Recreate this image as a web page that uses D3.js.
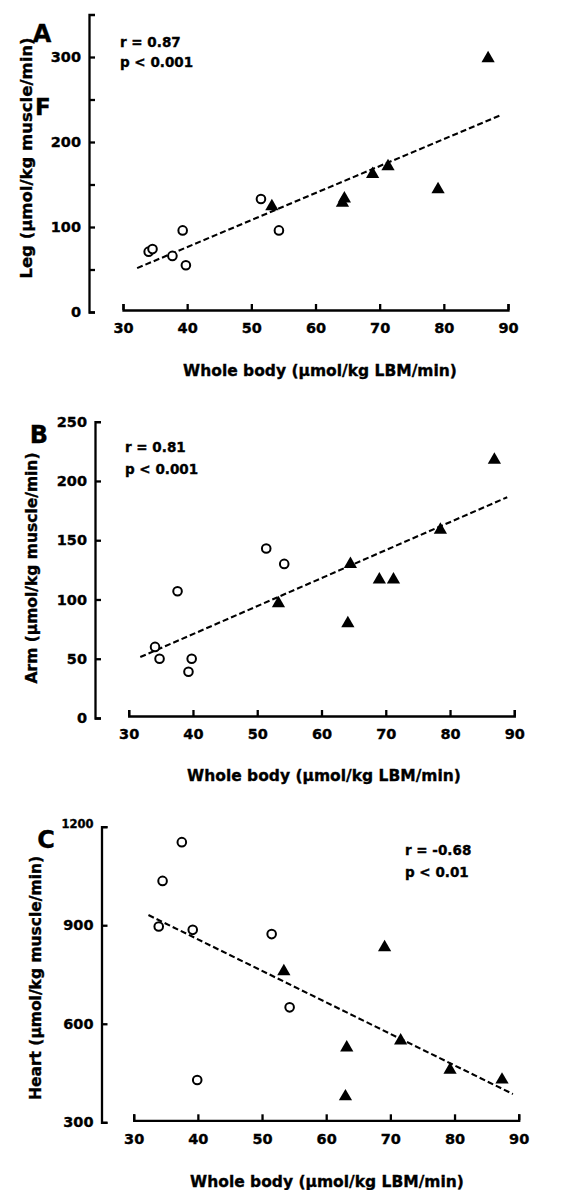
<!DOCTYPE html>
<html>
<head>
<meta charset="utf-8">
<script src="https://cdn.jsdelivr.net/npm/d3@7"></script>
<style>
  body { margin: 0; background: #fff; }
  svg { display: block; font-family: "DejaVu Sans", "Liberation Sans", Arial, sans-serif; font-weight: bold; }
  text { stroke: #000; stroke-width: 0.35px; }
</style>
</head>
<body>
<svg id="chart" width="564" height="1190"></svg>
<script>
// whole body x ticks, shared by all panels
const xTicks = [30, 40, 50, 60, 70, 80, 90];

// A: leg
const legCircleX = [34.0, 34.6, 37.7, 39.3, 39.8, 51.5, 54.3];
const legCircleY = [71, 74, 66, 96, 55, 133, 96];
const legTriX = [53.2, 64.2, 64.5, 68.9, 71.3, 79.1, 86.9];
const legTriY = [126, 130, 135, 164, 173, 146, 300];
const legFitX = [32.2, 88.8];
const legFitY = [51.6, 231.4];
const legYTicks = [0, 50, 100, 150, 200, 250, 300];
const legYLabels = [0, 100, 200, 300];

// B: arm
const armCircleX = [51.4, 54.2, 37.6, 34.1, 34.8, 39.8, 39.3];
const armCircleY = [143, 130, 107, 60, 50, 50, 39];
const armTriX = [64.5, 69.0, 71.2, 78.5, 86.9, 53.3, 64.1];
const armTriY = [131, 118, 118, 160, 219, 98, 81];
const armFitX = [31.8, 88.9];
const armFitY = [51.4, 186.3];
const armYTicks = [0, 50, 100, 150, 200, 250];
const armYLabels = [0, 50, 100, 150, 200, 250];

// C: heart
const heartCircleX = [37.5, 34.5, 33.9, 39.2, 51.5, 54.3, 39.9];
const heartCircleY = [1153, 1035, 896, 886, 873, 650, 429];
const heartTriX = [53.4, 69.1, 63.2, 71.6, 63.0, 79.3, 87.4];
const heartTriY = [764, 837, 532, 553, 383, 464, 434];
const heartFitX = [32.3, 89.1];
const heartFitY = [931, 386];
const heartYTicks = [300, 600, 900, 1200];
const heartYLabels = [300, 600, 900, 1200];

const svg = d3.select("#chart");

const panels = [
  {
    letter: "A", letterX: 42, letterY: 42,
    yTitle: "Leg (µmol/kg muscle/min)", yTitleX: 32, yTitleY: 158, yTitleSize: 16.5,
    axisX: 89, x0: 123, x1: 508, yBottom: 312, yTop: 14.5, yDomain: [0, 350],
    yTicks: legYTicks, yLabels: legYLabels,
    cx: legCircleX, cy: legCircleY, tx: legTriX, ty: legTriY, fx: legFitX, fy: legFitY,
    stats: ["r = 0.87", "p < 0.001"], statX: 120, statY: [47, 67],
    xTitleX: 320, xTitleY: 376
  },
  {
    letter: "B", letterX: 39, letterY: 443,
    yTitle: "Arm (µmol/kg muscle/min)", yTitleX: 37, yTitleY: 568, yTitleSize: 15.5,
    axisX: 95, x0: 128.7, x1: 514.3, yBottom: 718, yTop: 421.7, yDomain: [0, 250],
    yTicks: armYTicks, yLabels: armYLabels,
    cx: armCircleX, cy: armCircleY, tx: armTriX, ty: armTriY, fx: armFitX, fy: armFitY,
    stats: ["r = 0.81", "p < 0.001"], statX: 125, statY: [452, 474],
    xTitleX: 324, xTitleY: 781
  },
  {
    letter: "C", letterX: 46, letterY: 848,
    yTitle: "Heart (µmol/kg muscle/min)", yTitleX: 41, yTitleY: 978, yTitleSize: 15.5,
    axisX: 101.5, x0: 133.7, x1: 518.7, yBottom: 1122.3, yTop: 826.7, yDomain: [300, 1200],
    yTicks: heartYTicks, yLabels: heartYLabels,
    cx: heartCircleX, cy: heartCircleY, tx: heartTriX, ty: heartTriY, fx: heartFitX, fy: heartFitY,
    stats: ["r = -0.68", "p < 0.01"], statX: 405, statY: [855, 877],
    xTitleX: 327, xTitleY: 1187
  }
];

panels.forEach(p => {
  const g = svg.append("g");

  const x = d3.scaleLinear().domain([30, 90]).range([p.x0, p.x1]);
  const y = d3.scaleLinear().domain(p.yDomain).range([p.yBottom, p.yTop]);

  // y axis: ticks point inward, labels on the left
  const yAxis = d3.axisLeft(y)
    .tickValues(p.yTicks)
    .tickSizeInner(-6)
    .tickSizeOuter(-6)
    .tickPadding(8)
    .tickFormat(d => p.yLabels.includes(d) ? d : "");
  const ya = g.append("g")
    .attr("transform", `translate(${p.axisX},0)`)
    .call(yAxis);

  // x axis, sits just above the y minimum
  const xAxis = d3.axisBottom(x)
    .tickValues(xTicks)
    .tickSizeInner(-6)
    .tickSizeOuter(-6)
    .tickPadding(13);
  const xa = g.append("g")
    .attr("transform", `translate(0,${p.yBottom - 2})`)
    .call(xAxis);

  [ya, xa].forEach(a => {
    a.select(".domain").attr("stroke", "#000").attr("stroke-width", 2.3);
    a.selectAll(".tick line").attr("stroke", "#000").attr("stroke-width", 2.3);
    a.selectAll(".tick text")
      .attr("fill", "#000")
      .attr("font-family", "DejaVu Sans, sans-serif")
      .attr("font-weight", "bold")
      .attr("font-size", 14.5);
  });

  if (p.letter === "C") {
    ya.selectAll(".tick text").filter(d => d === 1200)
      .attr("font-size", 11.5)
      .attr("dy", "0.1em");
  }

  // regression line
  const line = d3.line().x(d => x(d[0])).y(d => y(d[1]));
  g.append("path")
    .datum(d3.zip(p.fx, p.fy))
    .attr("d", line)
    .attr("fill", "none")
    .attr("stroke", "#000")
    .attr("stroke-width", 2.1)
    .attr("stroke-dasharray", "6,3");

  // open circles
  g.selectAll("circle.open")
    .data(d3.zip(p.cx, p.cy))
    .enter()
    .append("circle")
    .attr("class", "open")
    .attr("cx", d => x(d[0]))
    .attr("cy", d => y(d[1]))
    .attr("r", 4.3)
    .attr("fill", "#fff")
    .attr("stroke", "#000")
    .attr("stroke-width", 2);

  // filled triangles
  const tri = d3.symbol().type(d3.symbolTriangle).size(76);
  g.selectAll("path.tri")
    .data(d3.zip(p.tx, p.ty))
    .enter()
    .append("path")
    .attr("class", "tri")
    .attr("transform", d => `translate(${x(d[0])},${y(d[1]) + 1.5})`)
    .attr("d", tri)
    .attr("fill", "#000");

  // texts
  g.append("text")
    .attr("x", p.letterX)
    .attr("y", p.letterY)
    .attr("text-anchor", "middle")
    .attr("font-size", 24)
    .text(p.letter);

  g.append("text")
    .attr("transform", `translate(${p.yTitleX},${p.yTitleY}) rotate(-90)`)
    .attr("text-anchor", "middle")
    .attr("font-size", p.yTitleSize)
    .text(p.yTitle);

  g.append("text")
    .attr("x", p.xTitleX)
    .attr("y", p.xTitleY)
    .attr("text-anchor", "middle")
    .attr("font-size", 15.5)
    .text("Whole body (µmol/kg LBM/min)");

  p.stats.forEach((s, i) => {
    g.append("text")
      .attr("x", p.statX)
      .attr("y", p.statY[i])
      .attr("font-size", 13.5)
      .text(s);
  });
});

// stray glyph next to the leg axis title
svg.append("text")
  .attr("x", 35)
  .attr("y", 115)
  .attr("font-size", 23)
  .text("F");
</script>
</body>
</html>
